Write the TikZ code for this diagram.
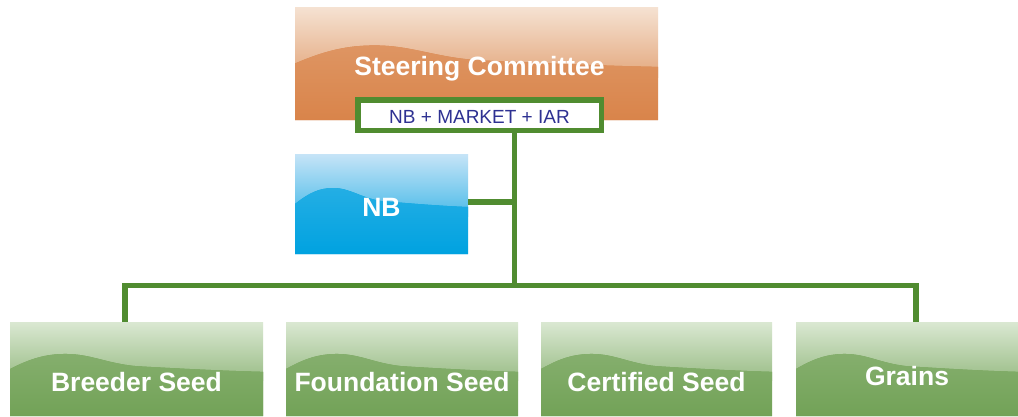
\documentclass[tikz,border=0pt]{standalone}
\usepackage{fontspec}
\setmainfont{Liberation Sans}
\usetikzlibrary{calc}
\definecolor{orangeBase}{RGB}{217,132,74}
\definecolor{orangeLight}{RGB}{245,226,210}
\definecolor{blueBase}{RGB}{0,162,224}
\definecolor{blueLight}{RGB}{198,228,247}
\definecolor{greenBase}{RGB}{114,162,87}
\definecolor{greenLight}{RGB}{218,232,210}
\definecolor{lineGreen}{RGB}{80,140,48}
\definecolor{textBlue}{RGB}{46,49,146}
\newcommand\wX[1]{\x1+#1*(\x2-\x1)}
\newcommand\wY[1]{\y1+#1*(\y2-\y1)}
\newcommand\bigfont{\fontsize{26.5}{30}\selectfont\bfseries}
\newcommand\smallfont{\fontsize{19}{22}\selectfont}
\tikzset{
  wbox/.style 2 args={
    fill=#1, inner sep=0pt, outer sep=0pt, text=white, font=\bigfont,
    text depth=0pt, align=center,
    path picture={
      \fill[top color=#2, bottom color=#1]
        let \p1=(path picture bounding box.north west),
            \p2=(path picture bounding box.south east) in
        (\p1) rectangle ({\x2},{\wY{0.62}});
      \fill[top color=#1!82!#2, middle color=#1, bottom color=#1]
        let \p1=(path picture bounding box.north west),
            \p2=(path picture bounding box.south east) in
        ({\x1},{\wY{0.50}})
          .. controls ({\wX{0.08}},{\wY{0.39}}) and ({\wX{0.14}},{\wY{0.34}}) .. ({\wX{0.22}},{\wY{0.34}})
          .. controls ({\wX{0.32}},{\wY{0.34}}) and ({\wX{0.38}},{\wY{0.44}}) .. ({\wX{0.5}},{\wY{0.47}})
          .. controls ({\wX{0.7}},{\wY{0.5}}) and ({\wX{0.85}},{\wY{0.52}}) .. ({\x2},{\wY{0.53}})
          -- (\p2) -- ({\x1},{\y2}) -- cycle;
    }
  },
  orangebox/.style={wbox={orangeBase}{orangeLight}},
  bluebox/.style={wbox={blueBase}{blueLight}},
  greenbox/.style={wbox={greenBase}{greenLight}, minimum height=94pt, text height=45pt},
  tagbox/.style={draw=lineGreen, line width=5.5pt, fill=white, inner sep=0pt,
    minimum width=243.5pt, minimum height=30.5pt, text=textBlue, font=\smallfont,
    text height=16.2pt, text depth=0pt},
  link/.style={draw=lineGreen, line width=5.5pt, line join=miter}
}
\begin{document}
\begin{tikzpicture}[x=1pt,y=-1pt]
\useasboundingbox (0,0) rectangle (1018,416);
\fill[white] (0,0) rectangle (1018,416);

\node[orangebox, minimum width=363pt, minimum height=113pt, text height=23.6pt] (steer) at (476.5,63.5) {\hspace*{6pt}Steering Committee};
\node[bluebox, minimum width=173pt, minimum height=100pt, text height=24.4pt] (nb) at (381.5,204) {NB};

\node[greenbox, minimum width=253pt] (breeder) at (136.5,369) {Breeder Seed};
\node[greenbox, minimum width=232pt] (foundation) at (402,369) {Foundation Seed};
\node[greenbox, minimum width=231pt] (certified) at (656.5,369) {Certified Seed};
\node[greenbox, minimum width=222pt, text height=33pt] (grains) at (907,369) {Grains};

\coordinate (hub) at (514.5,285.3);
\coordinate (lft) at (125,285.3);
\coordinate (rgt) at (916,285.3);

\draw[link] (hub |- 0,125) -- (hub);
\draw[link] (nb.east |- 0,202) -- (hub |- 0,202);
\draw[link] (lft |- breeder.north) -- (lft) -- (rgt) -- (rgt |- grains.north);

\node[tagbox] (tag) at (479.5,115) {NB + MARKET + IAR};
\end{tikzpicture}
\end{document}
